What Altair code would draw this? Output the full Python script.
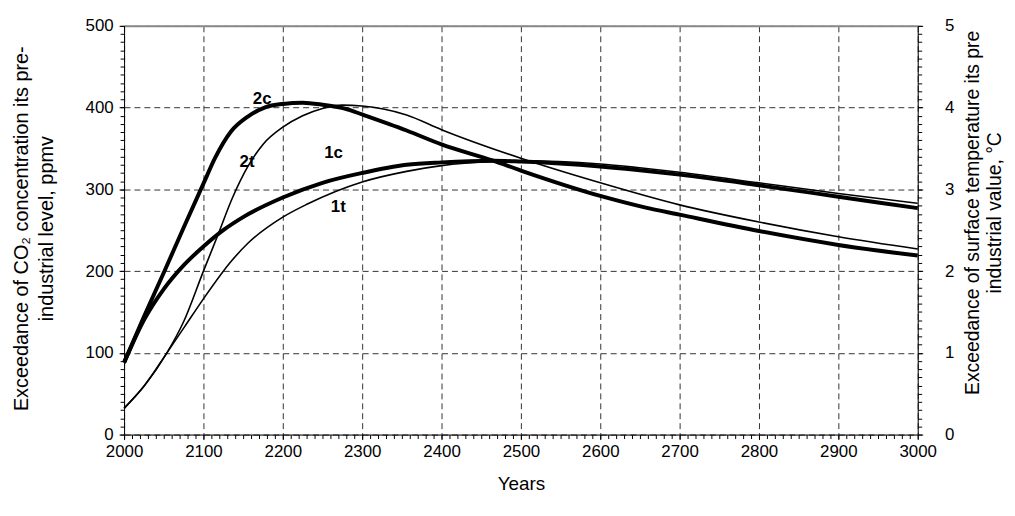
import altair as alt
import pandas as pd

FONT = "Liberation Sans"

# CO2 concentration exceedance, ppmv (thick curves, left axis)
c1_years = [2000, 2025, 2050, 2075, 2100, 2125, 2150, 2200, 2250, 2300, 2356, 2400, 2465, 2500, 2600, 2644, 2700, 2800, 2900, 3000]
c1_vals = [88, 140, 178, 207, 230, 250, 266, 290, 308, 320, 330, 333, 335, 334, 328, 324, 318, 305, 291, 277]
c2_years = [2000, 2025, 2050, 2075, 2100, 2115, 2135, 2156, 2177, 2200, 2225, 2250, 2281, 2300, 2356, 2400, 2465, 2500, 2600, 2656, 2700, 2800, 2900, 3000]
c2_vals = [88, 144, 198, 253, 307, 339, 371, 389, 400, 404.5, 406, 403.5, 398, 391.6, 372, 355, 335, 323, 292, 278, 269, 249, 232, 219]

# surface temperature exceedance, degC (thin curves, right axis)
t1_years = [2000, 2025, 2054, 2077, 2100, 2135, 2156, 2200, 2231, 2300, 2356, 2400, 2465, 2500, 2600, 2644, 2700, 2800, 2900, 3000]
t1_vals = [0.32, 0.59, 1.00, 1.33, 1.66, 2.12, 2.34, 2.66, 2.82, 3.09, 3.22, 3.29, 3.34, 3.35, 3.31, 3.27, 3.21, 3.08, 2.95, 2.83]
t2_years = [2000, 2025, 2054, 2075, 2100, 2119, 2135, 2156, 2175, 2200, 2225, 2250, 2275, 2300, 2356, 2400, 2500, 2600, 2700, 2800, 2900, 3000]
t2_vals = [0.32, 0.59, 1.00, 1.38, 2.00, 2.46, 2.86, 3.28, 3.55, 3.76, 3.90, 3.99, 4.03, 4.02, 3.91, 3.73, 3.38, 3.08, 2.81, 2.60, 2.42, 2.27]

# curve labels (year, ppmv position)
lab_text = ["2c", "2t", "1c", "1t"]
lab_year = [2174, 2155, 2264, 2270]
lab_val = [411, 334, 344, 278]

x_major = list(range(2000, 3001, 100))
x_minor = list(range(2000, 3001, 10))
yl_major = list(range(0, 501, 100))
yl_minor = list(range(0, 501, 10))
yr_major = [0, 1, 2, 3, 4, 5]
yr_minor = [round(i * 0.1, 1) for i in range(0, 51)]

c_df = pd.concat([
    pd.DataFrame({"year": c1_years, "v": c1_vals, "s": "1c"}),
    pd.DataFrame({"year": c2_years, "v": c2_vals, "s": "2c"}),
])
t_df = pd.concat([
    pd.DataFrame({"year": t1_years, "v": t1_vals, "s": "1t"}),
    pd.DataFrame({"year": t2_years, "v": t2_vals, "s": "2t"}),
])
lab_df = pd.DataFrame({"txt": lab_text, "year": lab_year, "v": lab_val})

xs = alt.Scale(domain=[2000, 3000], nice=False, zero=False)
yls = alt.Scale(domain=[0, 500], nice=False, zero=False)
yrs = alt.Scale(domain=[0, 5], nice=False, zero=False)

grid_color = "#333333"

c_lines = alt.Chart(c_df).mark_line(color="black", strokeWidth=4, interpolate="monotone").encode(
    x=alt.X("year:Q", scale=xs, axis=alt.Axis(
        orient="bottom", values=x_major, format="d", labelFont=FONT, labelFontSize=17,
        labelColor="black", labelPadding=4, labelFlush=False, tickSize=5, tickColor="black",
        domainColor="black", grid=True, gridColor=grid_color, gridDash=[6, 4],
        title="Years", titleFont=FONT, titleFontSize=19, titleFontWeight="normal",
        titleColor="black", titlePadding=15)),
    y=alt.Y("v:Q", scale=yls, axis=alt.Axis(
        orient="left", values=yl_major, labelFont=FONT, labelFontSize=17, labelColor="black",
        labelPadding=6, labelFlush=False, tickSize=5, tickColor="black", domainColor="black",
        grid=True, gridColor=grid_color, gridDash=[6, 4],
        title=["Exceedance of CO₂ concentration its pre-", "industrial level,  ppmv"],
        titleFont=FONT, titleFontSize=20, titleFontWeight="normal", titleColor="black",
        titleAngle=270, titleAlign="center", titleBaseline="middle", titleLineHeight=25,
        titleX=-103, titleY=204)),
    detail="s:N",
)

t_lines = alt.Chart(t_df).mark_line(color="black", strokeWidth=1.6, interpolate="monotone").encode(
    x=alt.X("year:Q", scale=xs, axis=None),
    y=alt.Y("v:Q", scale=yrs, axis=alt.Axis(
        orient="right", values=yr_major, labelFont=FONT, labelFontSize=17, labelColor="black",
        labelPadding=22, labelFlush=False, tickSize=5, tickColor="black", domainColor="black",
        grid=False,
        title=["Exceedance of surface temperature its pre", "industrial value, °C"],
        titleFont=FONT, titleFontSize=19.5, titleFontWeight="normal", titleColor="black",
        titleAngle=270, titleAlign="center", titleBaseline="middle", titleLineHeight=22,
        titleX=55, titleY=188)),
    detail="s:N",
)

c_minor = alt.Chart(c_df).mark_point(opacity=0, size=1).encode(
    x=alt.X("year:Q", scale=xs, axis=alt.Axis(
        orient="bottom", values=x_minor, labels=False, tickSize=4, tickColor="black",
        domain=False, grid=False, title=None)),
    y=alt.Y("v:Q", scale=yls, axis=alt.Axis(
        orient="left", values=yl_minor, labels=False, tickSize=4, tickColor="black",
        domain=False, grid=False, title=None)),
)

t_minor = alt.Chart(t_df).mark_point(opacity=0, size=1).encode(
    x=alt.X("year:Q", scale=xs, axis=alt.Axis(
        orient="top", labels=False, ticks=False, grid=False, domainColor="#888888",
        domainWidth=2, title=None)),
    y=alt.Y("v:Q", scale=yrs, axis=alt.Axis(
        orient="right", values=yr_minor, labels=False, tickSize=4, tickColor="black",
        domain=False, grid=False, title=None)),
)

labels = alt.Chart(lab_df).mark_text(font=FONT, fontSize=17, fontWeight="bold", color="black").encode(
    x=alt.X("year:Q", scale=xs, axis=None),
    y=alt.Y("v:Q", scale=yls, axis=None),
    text="txt:N",
)

chart = alt.layer(c_minor, t_minor, c_lines, t_lines, labels).resolve_scale(
    x="independent", y="independent"
).resolve_axis(
    x="independent", y="independent"
).properties(
    width=800, height=412,
    autosize=alt.AutoSizeParams(type="none"),
    padding={"left": 117, "top": 16, "right": 90, "bottom": 70},
).configure_view(stroke=None).configure(background="white")

chart.save("out.html", embed_options={"renderer": "svg", "actions": False})
